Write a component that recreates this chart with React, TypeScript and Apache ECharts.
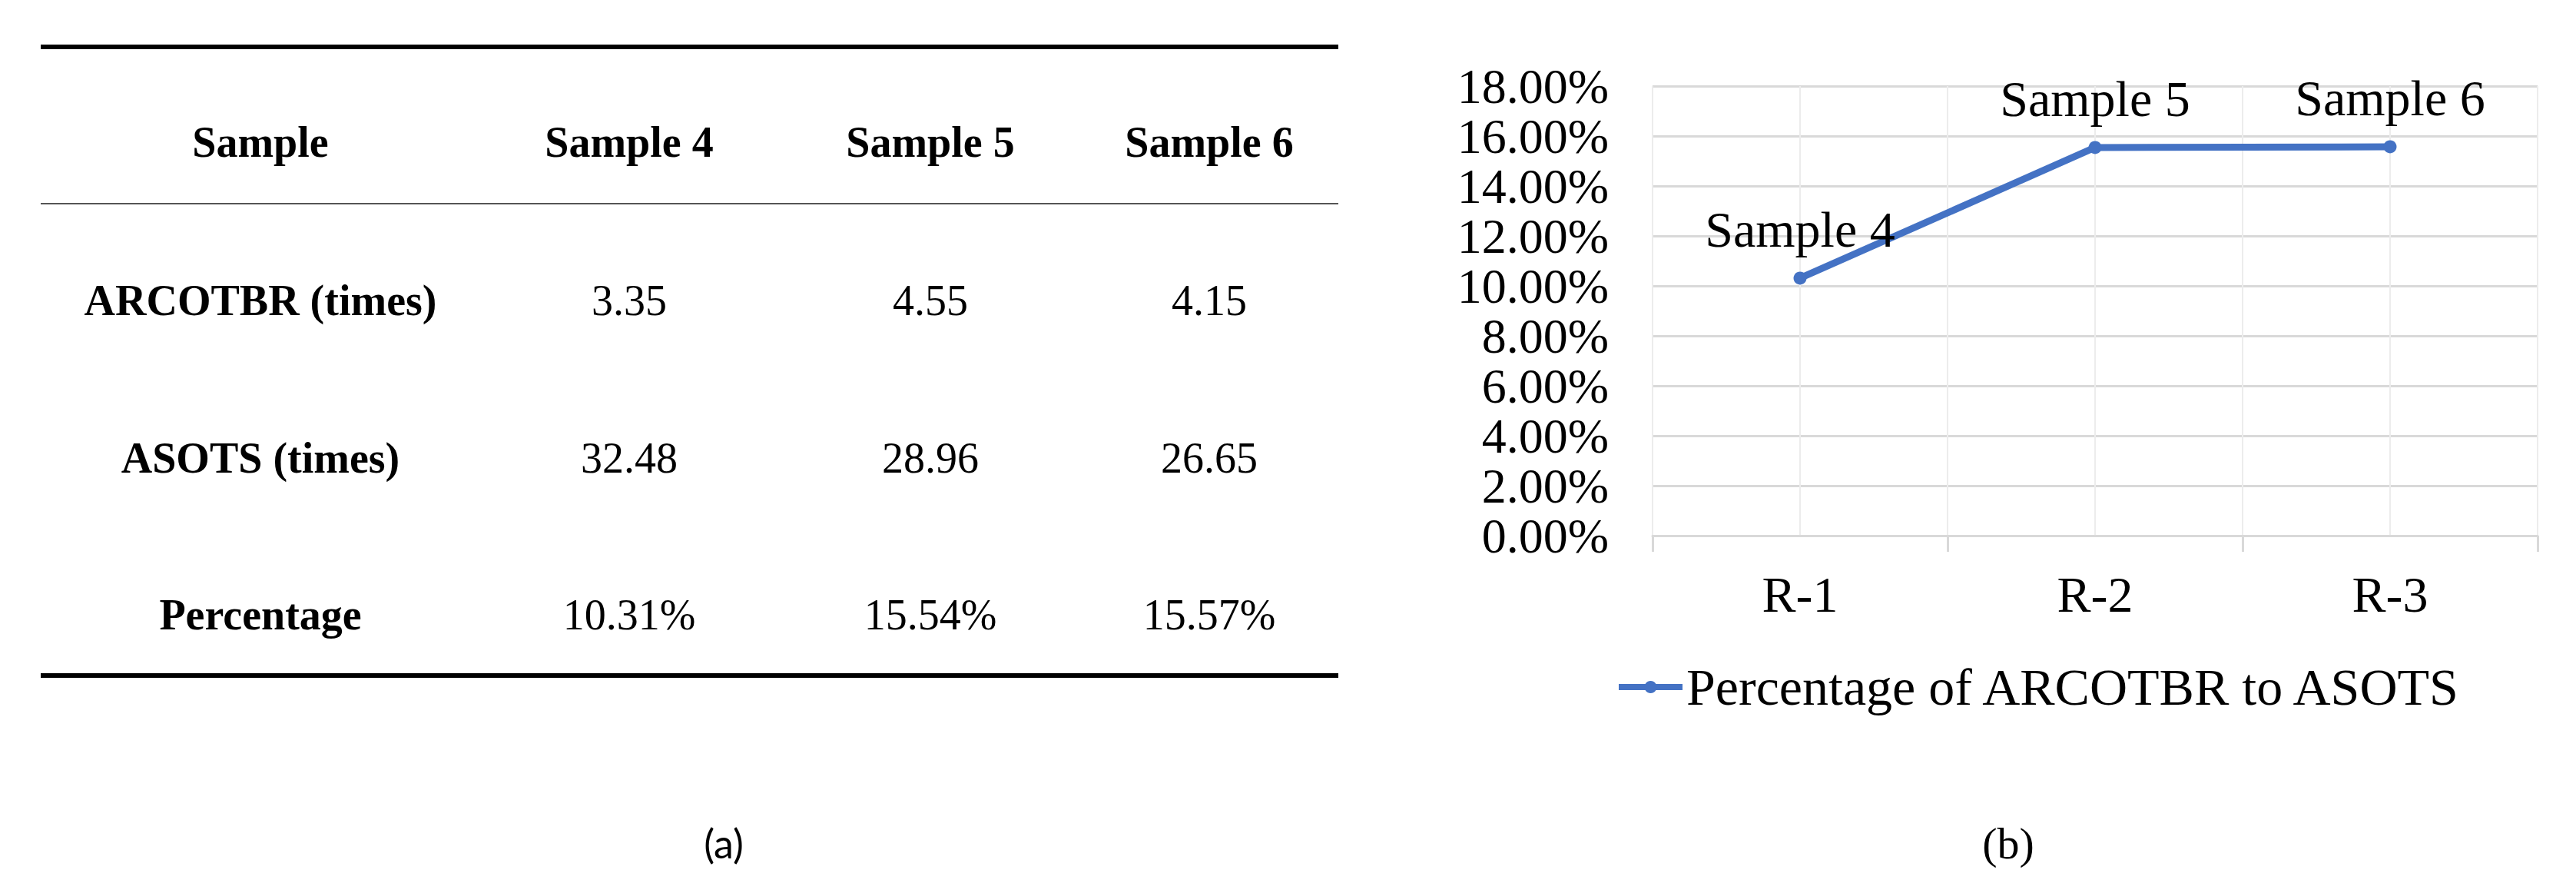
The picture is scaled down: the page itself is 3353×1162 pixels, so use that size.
import React, { useEffect, useRef } from "react";
import * as echarts from "echarts";

// ---------- data ----------
const tableHeader = ["Sample", "Sample 4", "Sample 5", "Sample 6"];
const rowLabels = ["ARCOTBR (times)", "ASOTS (times)", "Percentage"];
const arcotbr = [3.35, 4.55, 4.15];
const asots = [32.48, 28.96, 26.65];
const percentage = [10.31, 15.54, 15.57];

const categories = ["R-1", "R-2", "R-3"];
const pointLabels = ["Sample 4", "Sample 5", "Sample 6"];
const seriesName = "Percentage of ARCOTBR to ASOTS";
const yMin = 0;
const yMax = 18;
const yInterval = 2;

const W = 3353;
const H = 1162;

// table layout
const tableLeft = 53;
const tableRight = 1742;
const colX = [339, 819, 1211, 1574];
const headerY = 185;
const rowY = [391, 596, 800];
const serif = "'Liberation Serif', 'Times New Roman', serif";

export default function App() {
  const ref = useRef<HTMLDivElement>(null);

  useEffect(() => {
    if (!ref.current) return;
    const chart = echarts.init(ref.current, undefined, { renderer: "svg" });

    const tableRows = [
      arcotbr.map((v) => v.toFixed(2)),
      asots.map((v) => v.toFixed(2)),
      percentage.map((v) => v.toFixed(2) + "%"),
    ];

    const graphics: any[] = [];
    graphics.push({
      type: "line",
      shape: { x1: tableLeft, y1: 61, x2: tableRight, y2: 61 },
      style: { stroke: "#000", lineWidth: 6 },
    });
    graphics.push({
      type: "line",
      shape: { x1: tableLeft, y1: 265, x2: tableRight, y2: 265 },
      style: { stroke: "#555", lineWidth: 2 },
    });
    graphics.push({
      type: "line",
      shape: { x1: tableLeft, y1: 879, x2: tableRight, y2: 879 },
      style: { stroke: "#000", lineWidth: 6 },
    });
    tableHeader.forEach((t, i) => {
      graphics.push({
        type: "text",
        x: colX[i],
        y: headerY,
        style: {
          text: t,
          fontSize: 56,
          fontWeight: "bold",
          fontFamily: serif,
          fill: "#000",
          align: "center",
          verticalAlign: "middle",
        },
      });
    });
    rowLabels.forEach((label, r) => {
      graphics.push({
        type: "text",
        x: colX[0],
        y: rowY[r],
        style: {
          text: label,
          fontSize: 56,
          fontWeight: "bold",
          fontFamily: serif,
          fill: "#000",
          align: "center",
          verticalAlign: "middle",
        },
      });
      tableRows[r].forEach((val, c) => {
        graphics.push({
          type: "text",
          x: colX[c + 1],
          y: rowY[r],
          style: {
            text: val,
            fontSize: 56,
            fontFamily: serif,
            fill: "#000",
            align: "center",
            verticalAlign: "middle",
          },
        });
      });
    });
    graphics.push({
      type: "text",
      x: 942,
      y: 1097,
      style: {
        text: "(a)",
        fontSize: 52,
        fontFamily: "Lato, 'Noto Sans', sans-serif",
        fill: "#000",
        align: "center",
        verticalAlign: "middle",
      },
    });
    graphics.push({
      type: "text",
      x: 2614,
      y: 1097,
      style: {
        text: "(b)",
        fontSize: 58,
        fontFamily: serif,
        fill: "#000",
        align: "center",
        verticalAlign: "middle",
      },
    });

    chart.setOption({
      animation: false,
      backgroundColor: "#fff",
      textStyle: { fontFamily: serif },
      grid: { left: 2151, top: 112, width: 1152, height: 585, containLabel: false },
      legend: {
        show: true,
        data: [seriesName],
        left: 2103,
        top: 860,
        padding: 0,
        itemWidth: 83,
        itemHeight: 20,
        lineStyle: { width: 8 },
        textStyle: { fontSize: 68, color: "#000", fontFamily: serif },
      },
      xAxis: [
        {
          type: "category",
          data: categories,
          boundaryGap: true,
          axisLine: { show: true, lineStyle: { color: "#d9d9d9", width: 3 } },
          axisTick: { show: true, alignWithLabel: false, length: 21, lineStyle: { color: "#d9d9d9", width: 3 } },
          axisLabel: { fontSize: 66, color: "#000", fontFamily: serif, margin: 43 },
          splitLine: { show: false },
        },
        {
          type: "value",
          min: 0,
          max: 6,
          interval: 1,
          position: "bottom",
          axisLine: { show: false },
          axisTick: { show: false },
          axisLabel: { show: false },
          splitLine: { show: true, lineStyle: { color: "#ececec", width: 2 } },
        },
      ],
      yAxis: {
        type: "value",
        min: yMin,
        max: yMax,
        interval: yInterval,
        axisLine: { show: false },
        axisTick: { show: false },
        axisLabel: {
          fontSize: 64,
          lineHeight: 62,
          color: "#000",
          fontFamily: serif,
          margin: 57,
          showMinLabel: true,
          showMaxLabel: true,
          hideOverlap: false,
          formatter: (v: number) => v.toFixed(2) + "%",
        },
        splitLine: { show: true, lineStyle: { color: "#d9d9d9", width: 3 } },
      },
      series: [
        {
          name: seriesName,
          type: "line",
          xAxisIndex: 0,
          data: percentage,
          color: "#4472C4",
          lineStyle: { color: "#4472C4", width: 9 },
          itemStyle: { color: "#4472C4" },
          symbol: "circle",
          symbolSize: 17,
          z: 5,
          label: {
            show: true,
            position: "top",
            distance: 22,
            fontSize: 66,
            color: "#000",
            fontFamily: serif,
            formatter: (p: any) => pointLabels[p.dataIndex],
          },
        },
      ],
      graphic: graphics,
    });

    return () => chart.dispose();
  }, []);

  return (
    <div
      ref={ref}
      style={{ position: "absolute", left: 0, top: 0, width: W, height: H, background: "#fff" }}
    />
  );
}
